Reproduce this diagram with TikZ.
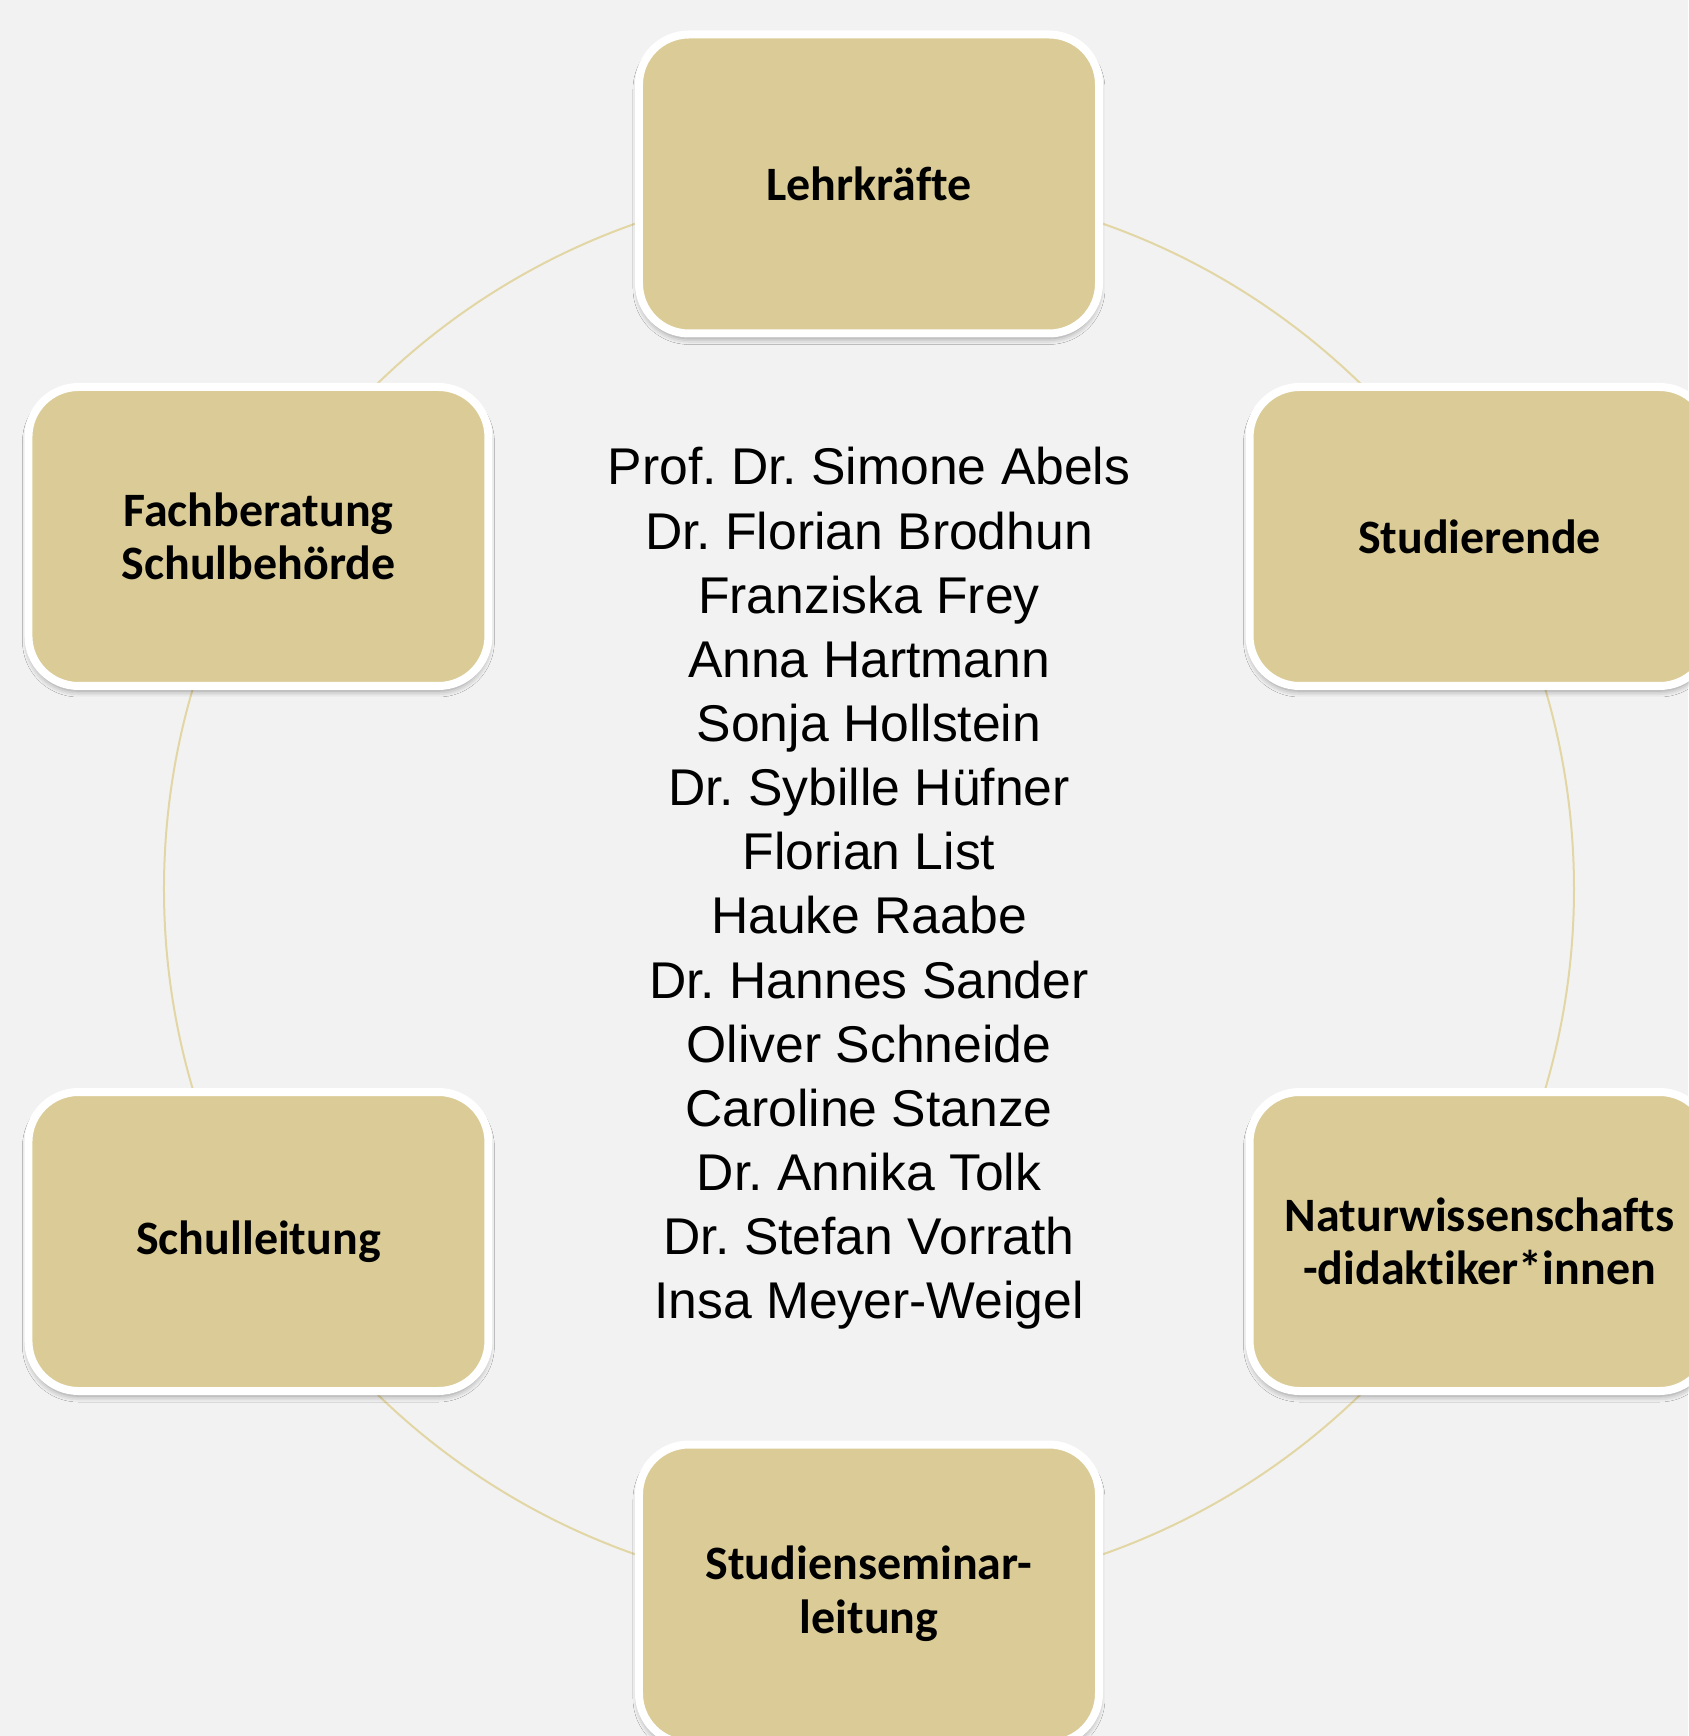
\documentclass[tikz,border=0pt]{standalone}
\usepackage{fontspec}
\setmainfont[Ligatures=CommonOff]{Carlito}
\newfontfamily\namefont{Liberation Sans}
\usetikzlibrary{shadows.blur}
\definecolor{paper}{RGB}{242,242,242}
\definecolor{sand}{RGB}{219,204,151}
\definecolor{ringline}{RGB}{226,214,164}
\frenchspacing

\begin{document}
\begin{tikzpicture}[
    group/.style={draw=white, line width=0.16cm, fill=sand, rounded corners=1cm,
      minimum width=9.2cm, minimum height=5.98cm, align=center, inner sep=0pt,
      font=\bfseries\fontsize{27.3}{30.5}\selectfont,
      blur shadow={shadow xshift=0cm, shadow yshift=-0.1cm,
        shadow blur radius=0.12cm, shadow opacity=40}},
    names/.style={align=center, font=\namefont\fontsize{29.4}{36.5}\selectfont},
  ]
    \fill[paper] (-17.38,-16.94) rectangle (16.38,17.78);
    \useasboundingbox (-17.38,-16.94) rectangle (16.38,17.78);
    \coordinate (hub) at (0,0);
    \draw[ringline, line width=0.04cm] (hub) circle[radius=14.1cm];
    \node[group] at (90:14.1)  (teachers) {Lehrkräfte};
    \node[group] at (30:14.1)  (students) {Studierende};
    \node[group] at (-30:14.1) (didactics) {Naturwissenschafts\\-didaktiker*innen};
    \node[group] at (-90:14.1) (seminar) {Studienseminar-\\leitung};
    \node[group] at (210:14.1) (heads) {Schulleitung};
    \node[group] at (150:14.1) (authority) {Fachberatung\\Schulbehörde};
    \node[names] at (0, 0.01) (team) {Prof. Dr. Simone Abels\\
      Dr. Florian Brodhun\\
      Franziska Frey\\
      Anna Hartmann\\
      Sonja Hollstein\\
      Dr. Sybille Hüfner\\
      Florian List\\
      Hauke Raabe\\
      Dr. Hannes Sander\\
      Oliver Schneide\\
      Caroline Stanze\\
      Dr. Annika Tolk\\
      Dr. Stefan Vorrath\\
      Insa Meyer-Weigel};
\end{tikzpicture}
\end{document}
